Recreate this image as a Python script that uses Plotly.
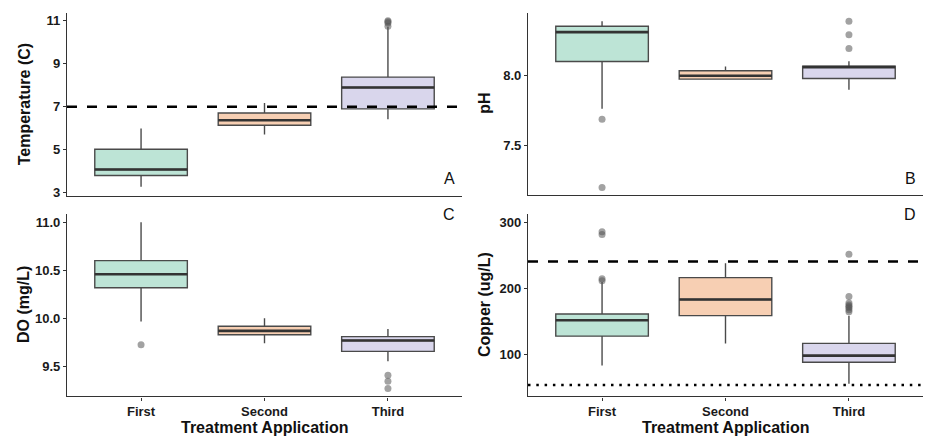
import plotly.graph_objects as go

W, H = 925, 439

categories = ["First", "Second", "Third"]
fills = ["#bde4d6", "#f7cfb3", "#d9d6ec"]

# Panel A: Temperature (C)
temp_low = [3.28, 5.71, 6.42]
temp_q1 = [3.80, 6.14, 6.90]
temp_med = [4.08, 6.37, 7.90]
temp_q3 = [5.02, 6.71, 8.38]
temp_high = [5.99, 7.18, 10.72]
temp_out = {"Third": [10.75, 10.9, 10.96, 11.0]}

# Panel B: pH
ph_low = [7.762, 7.971, 7.90]
ph_q1 = [8.103, 7.976, 7.98]
ph_med = [8.314, 8.00, 8.062]
ph_q3 = [8.357, 8.036, 8.069]
ph_high = [8.393, 8.067, 8.105]
ph_out = {"First": [7.686, 7.196], "Third": [8.196, 8.296, 8.393]}

# Panel C: DO (mg/L)
do_low = [9.966, 9.742, 9.554]
do_q1 = [10.318, 9.83, 9.657]
do_med = [10.458, 9.87, 9.77]
do_q3 = [10.60, 9.918, 9.81]
do_high = [11.0, 10.0, 9.89]
do_out = {"First": [9.726], "Third": [9.409, 9.347, 9.27]}

# Panel D: Copper (ug/L)
cu_low = [83.5, 117, 56]
cu_q1 = [128, 159, 88.5]
cu_med = [152, 183.5, 98.5]
cu_q3 = [161.5, 216.5, 117]
cu_high = [210, 238.5, 159]
cu_out = {"First": [212, 215, 282, 286], "Third": [165, 168, 171, 173, 175, 178, 188, 252]}

temp_threshold = 7
cu_upper = 241
cu_lower = 54

panels = [
    dict(ax="", low=temp_low, q1=temp_q1, med=temp_med, q3=temp_q3, high=temp_high, out=temp_out,
         title="Temperature (C)", letter="A", yrange=[2.86, 11.37], tickvals=[3, 5, 7, 9, 11], fmt="d",
         px=[67, 462], py=[13, 198], bottom=False),
    dict(ax="2", low=ph_low, q1=ph_q1, med=ph_med, q3=ph_q3, high=ph_high, out=ph_out,
         title="pH", letter="B", yrange=[7.143, 8.453], tickvals=[7.5, 8.0], fmt=".1f",
         px=[528, 923], py=[13, 197], bottom=False),
    dict(ax="3", low=do_low, q1=do_q1, med=do_med, q3=do_q3, high=do_high, out=do_out,
         title="DO (mg/L)", letter="C", yrange=[9.188, 11.09], tickvals=[9.5, 10.0, 10.5, 11.0], fmt=".1f",
         px=[67, 462], py=[216, 401], bottom=True),
    dict(ax="4", low=cu_low, q1=cu_q1, med=cu_med, q3=cu_q3, high=cu_high, out=cu_out,
         title="Copper (ug/L)", letter="D", yrange=[36.7, 313.6], tickvals=[100, 200, 300], fmt="d",
         px=[528, 923], py=[216, 401], bottom=True),
]

FONT = "Liberation Sans, Arial, sans-serif"
fig = go.Figure()
layout = dict(
    width=W, height=H, margin=dict(l=0, r=0, t=0, b=0),
    paper_bgcolor="white", plot_bgcolor="white", showlegend=False,
    font=dict(family=FONT, color="#1a1a1a"),
    annotations=[], shapes=[],
)

def fx(p):
    return p / W

def fy(p):
    return 1 - p / H

for P in panels:
    xa = "x" + P["ax"]
    ya = "y" + P["ax"]
    for i, c in enumerate(categories):
        fig.add_trace(go.Box(
            x=[c], q1=[P["q1"][i]], median=[P["med"][i]], q3=[P["q3"][i]],
            lowerfence=[P["low"][i]], upperfence=[P["high"][i]],
            fillcolor=fills[i], line=dict(color="#4a4a4a", width=1.4),
            width=0.75, whiskerwidth=0, boxpoints=False, hoverinfo="skip",
            xaxis=xa, yaxis=ya))
        # thick median line
        m = P["med"][i]
        fig.add_trace(go.Box(
            x=[c], q1=[m], median=[m], q3=[m], lowerfence=[m], upperfence=[m],
            fillcolor="rgba(0,0,0,0)", line=dict(color="#333333", width=2.6),
            width=0.75, whiskerwidth=0, boxpoints=False, hoverinfo="skip",
            xaxis=xa, yaxis=ya))
        if c in P["out"]:
            vals = P["out"][c]
            fig.add_trace(go.Scatter(
                x=[c] * len(vals), y=vals, mode="markers",
                marker=dict(color="rgba(85,85,85,0.55)", size=7, line=dict(width=0)),
                hoverinfo="skip", xaxis=xa, yaxis=ya))
    xkey = "xaxis" + P["ax"]
    ykey = "yaxis" + P["ax"]
    layout[xkey] = dict(
        domain=[fx(P["px"][0]), fx(P["px"][1])], anchor=ya,
        type="category", categoryorder="array", categoryarray=categories,
        range=[-0.6, 2.6], showline=True, linecolor="#333333", linewidth=1.3,
        ticks="outside" if P["bottom"] else "", ticklen=3, tickcolor="#333333",
        showticklabels=P["bottom"], showgrid=False, zeroline=False,
        tickfont=dict(family=FONT, size=13, weight="bold", color="#1a1a1a"),
    )
    layout[ykey] = dict(
        domain=[fy(P["py"][1]), fy(P["py"][0])], anchor=xa,
        range=P["yrange"], tickmode="array", tickvals=P["tickvals"], tickformat=P["fmt"],
        showline=True, linecolor="#333333", linewidth=1.3,
        ticks="outside", ticklen=3, tickcolor="#333333",
        showgrid=False, zeroline=False,
        tickfont=dict(family=FONT, size=13, weight="bold", color="#1a1a1a"),
    )
    # y-axis title
    layout["annotations"].append(dict(
        text=P["title"], textangle=-90, xref="paper", yref="paper",
        x=fx(P["px"][0] - 43), y=fy((P["py"][0] + P["py"][1]) / 2),
        xanchor="center", yanchor="middle", showarrow=False,
        font=dict(family=FONT, size=16, weight="bold", color="#111111")))
    # panel letter
    layout["annotations"].append(dict(
        text=P["letter"], xref="paper", yref="paper",
        x=fx(P["px"][1] - 13), y=fy(181 if not P["bottom"] else 217),
        xanchor="center", yanchor="middle", showarrow=False,
        font=dict(family=FONT, size=16, color="#111111")))
    if P["bottom"]:
        layout["annotations"].append(dict(
            text="Treatment Application", xref="paper", yref="paper",
            x=fx((P["px"][0] + P["px"][1]) / 2), y=fy(422),
            xanchor="center", yanchor="top", showarrow=False,
            font=dict(family=FONT, size=16, weight="bold", color="#111111")))

# reference lines
layout["shapes"].append(dict(type="line", xref="x domain", yref="y", x0=0, x1=1,
                             y0=temp_threshold, y1=temp_threshold, layer="above",
                             line=dict(color="black", width=2.6, dash="10px,10px")))
layout["shapes"].append(dict(type="line", xref="x4 domain", yref="y4", x0=0, x1=1,
                             y0=cu_upper, y1=cu_upper, layer="above",
                             line=dict(color="black", width=2.6, dash="10px,10px")))
layout["shapes"].append(dict(type="line", xref="x4 domain", yref="y4", x0=0, x1=1,
                             y0=cu_lower, y1=cu_lower, layer="above",
                             line=dict(color="black", width=2.6, dash="2.5px,5.8px")))

fig.update_layout(**layout)
fig.write_html("out.html", config={"displayModeBar": False},
               post_script="document.body.style.margin='0px';document.body.style.overflow='hidden';")
